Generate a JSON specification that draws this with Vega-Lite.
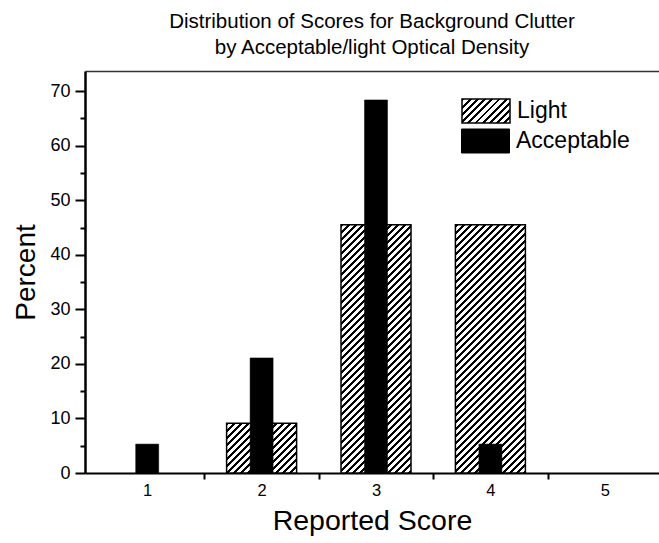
{
  "$schema": "https://vega.github.io/schema/vega-lite/v6.json",
  "width": 574,
  "height": 402,
  "autosize": "none",
  "padding": {"left": 85, "top": 71, "right": 0, "bottom": 70},
  "background": "white",
  "config": {"view": {"stroke": null}, "axis": {"grid": false}},
  "title": {
    "text": ["Distribution of Scores for Background Clutter", "by Acceptable/light Optical Density"],
    "font": "Liberation Sans",
    "fontSize": 20.5,
    "fontWeight": "normal",
    "color": "black",
    "lineHeight": 26,
    "offset": 13,
    "anchor": "middle"
  },
  "data": {
    "values": [
      {"score": 1, "group": "Acceptable", "percent": 5.3},
      {"score": 2, "group": "Acceptable", "percent": 21.1},
      {"score": 3, "group": "Acceptable", "percent": 68.4},
      {"score": 4, "group": "Acceptable", "percent": 5.3},
      {"score": 2, "group": "Light", "percent": 9.1},
      {"score": 3, "group": "Light", "percent": 45.5},
      {"score": 4, "group": "Light", "percent": 45.5}
    ]
  },
  "resolve": {"scale": {"stroke": "independent"}},
  "encoding": {
    "y": {
      "field": "percent", "type": "quantitative",
      "scale": {"domain": [0, 73.7], "nice": false},
      "axis": {
        "values": [0, 5, 10, 15, 20, 25, 30, 35, 40, 45, 50, 55, 60, 65, 70],
        "labelExpr": "datum.value % 10 === 0 ? '' + datum.value : ''",
        "labelOverlap": false,
        "labelFlush": false,
        "labelFont": "Liberation Sans",
        "labelFontSize": 18,
        "labelColor": "black",
        "labelPadding": 5,
        "tickSize": 10,
        "tickDash": {"condition": {"test": "datum.value % 10 !== 0", "value": [5, 30]}, "value": [10, 0]},
        "tickWidth": 2,
        "tickColor": "black",
        "domainColor": "black",
        "domainWidth": 2.5,
        "title": "Percent",
        "titleFont": "Liberation Sans",
        "titleFontSize": 28,
        "titleFontWeight": "normal",
        "titleColor": "black",
        "titlePadding": 9
      }
    }
  },
  "layer": [
    {
      "transform": [{"filter": "datum.group === 'Light'"}],
      "mark": {"type": "bar", "width": 70, "strokeWidth": 1.5},
      "encoding": {
        "x": {
          "field": "score", "type": "quantitative",
          "scale": {"domain": [0.5, 5.43], "nice": false, "zero": false},
          "axis": {
            "orient": "bottom",
            "values": [1, 1.5, 2, 2.5, 3, 3.5, 4, 4.5, 5],
            "labelExpr": "datum.value % 1 === 0 ? '' + datum.value : ''",
            "labelOverlap": false,
            "labelFlush": false,
            "labelFont": "Liberation Sans",
            "labelFontSize": 16.5,
            "labelColor": "black",
            "labelPadding": 3,
            "tickSize": 6,
            "tickWidth": 2,
            "tickColor": "black",
            "tickOpacity": {"condition": {"test": "datum.value % 1 === 0", "value": 0}, "value": 1},
            "domainColor": "black",
            "domainWidth": 2,
            "title": "Reported Score",
            "titleFont": "Liberation Sans",
            "titleFontSize": 28.5,
            "titleFontWeight": "normal",
            "titleColor": "black",
            "titlePadding": 8
          }
        },
        "stroke": {
          "field": "group", "type": "nominal",
          "scale": {"domain": ["Light"], "range": ["#000000"]},
          "legend": {
            "orient": "none",
            "legendX": 376,
            "legendY": 15,
            "title": null,
            "padding": 0,
            "symbolType": "M-1,-0.5H1V0.5H-1Z",
            "symbolSize": 2304,
            "symbolStrokeWidth": 1.5,
            "symbolOpacity": 1,
            "labelFont": "Liberation Sans",
            "labelFontSize": 23,
            "labelColor": "black",
            "labelOffset": 6
          }
        },
        "fill": {
          "condition": [
            {"test": "datum.score > 100", "value": {"gradient": "linear", "x1": 0, "y1": 0, "x2": 1.2, "y2": 0.6, "stops": [
              {"offset":0,"color":"#000"},{"offset":0.04,"color":"#000"},{"offset":0.04,"color":"#fff"},{"offset":0.1,"color":"#fff"},
              {"offset":0.1,"color":"#000"},{"offset":0.14,"color":"#000"},{"offset":0.14,"color":"#fff"},{"offset":0.2,"color":"#fff"},
              {"offset":0.2,"color":"#000"},{"offset":0.24,"color":"#000"},{"offset":0.24,"color":"#fff"},{"offset":0.3,"color":"#fff"},
              {"offset":0.3,"color":"#000"},{"offset":0.34,"color":"#000"},{"offset":0.34,"color":"#fff"},{"offset":0.4,"color":"#fff"},
              {"offset":0.4,"color":"#000"},{"offset":0.44,"color":"#000"},{"offset":0.44,"color":"#fff"},{"offset":0.5,"color":"#fff"},
              {"offset":0.5,"color":"#000"},{"offset":0.54,"color":"#000"},{"offset":0.54,"color":"#fff"},{"offset":0.6,"color":"#fff"},
              {"offset":0.6,"color":"#000"},{"offset":0.64,"color":"#000"},{"offset":0.64,"color":"#fff"},{"offset":0.7,"color":"#fff"},
              {"offset":0.7,"color":"#000"},{"offset":0.74,"color":"#000"},{"offset":0.74,"color":"#fff"},{"offset":0.8,"color":"#fff"},
              {"offset":0.8,"color":"#000"},{"offset":0.84,"color":"#000"},{"offset":0.84,"color":"#fff"},{"offset":0.9,"color":"#fff"},
              {"offset":0.9,"color":"#000"},{"offset":0.94,"color":"#000"},{"offset":0.94,"color":"#fff"},{"offset":1,"color":"#fff"}
            ]}},
            {"test": "datum.score === 2", "value": {"gradient": "linear", "x1": 0, "y1": 0, "x2": 1.3308, "y2": 0.94372, "stops": [
              {"offset":0,"color":"#000"},{"offset":0.02,"color":"#000"},{"offset":0.02,"color":"#fff"},{"offset":0.05,"color":"#fff"},
              {"offset":0.05,"color":"#000"},{"offset":0.07,"color":"#000"},{"offset":0.07,"color":"#fff"},{"offset":0.1,"color":"#fff"},
              {"offset":0.1,"color":"#000"},{"offset":0.12,"color":"#000"},{"offset":0.12,"color":"#fff"},{"offset":0.15,"color":"#fff"},
              {"offset":0.15,"color":"#000"},{"offset":0.17,"color":"#000"},{"offset":0.17,"color":"#fff"},{"offset":0.2,"color":"#fff"},
              {"offset":0.2,"color":"#000"},{"offset":0.22,"color":"#000"},{"offset":0.22,"color":"#fff"},{"offset":0.25,"color":"#fff"},
              {"offset":0.25,"color":"#000"},{"offset":0.27,"color":"#000"},{"offset":0.27,"color":"#fff"},{"offset":0.3,"color":"#fff"},
              {"offset":0.3,"color":"#000"},{"offset":0.32,"color":"#000"},{"offset":0.32,"color":"#fff"},{"offset":0.35,"color":"#fff"},
              {"offset":0.35,"color":"#000"},{"offset":0.37,"color":"#000"},{"offset":0.37,"color":"#fff"},{"offset":0.4,"color":"#fff"},
              {"offset":0.4,"color":"#000"},{"offset":0.42,"color":"#000"},{"offset":0.42,"color":"#fff"},{"offset":0.45,"color":"#fff"},
              {"offset":0.45,"color":"#000"},{"offset":0.47,"color":"#000"},{"offset":0.47,"color":"#fff"},{"offset":0.5,"color":"#fff"},
              {"offset":0.5,"color":"#000"},{"offset":0.52,"color":"#000"},{"offset":0.52,"color":"#fff"},{"offset":0.55,"color":"#fff"},
              {"offset":0.55,"color":"#000"},{"offset":0.57,"color":"#000"},{"offset":0.57,"color":"#fff"},{"offset":0.6,"color":"#fff"},
              {"offset":0.6,"color":"#000"},{"offset":0.62,"color":"#000"},{"offset":0.62,"color":"#fff"},{"offset":0.65,"color":"#fff"},
              {"offset":0.65,"color":"#000"},{"offset":0.67,"color":"#000"},{"offset":0.67,"color":"#fff"},{"offset":0.7,"color":"#fff"},
              {"offset":0.7,"color":"#000"},{"offset":0.72,"color":"#000"},{"offset":0.72,"color":"#fff"},{"offset":0.75,"color":"#fff"},
              {"offset":0.75,"color":"#000"},{"offset":0.77,"color":"#000"},{"offset":0.77,"color":"#fff"},{"offset":0.8,"color":"#fff"},
              {"offset":0.8,"color":"#000"},{"offset":0.82,"color":"#000"},{"offset":0.82,"color":"#fff"},{"offset":0.85,"color":"#fff"},
              {"offset":0.85,"color":"#000"},{"offset":0.87,"color":"#000"},{"offset":0.87,"color":"#fff"},{"offset":0.9,"color":"#fff"}
            ]}},
            {"test": "datum.score !== 2", "value": {"gradient": "linear", "x1": 0, "y1": 0, "x2": 0.3684, "y2": 1.3063, "stops": [
              {"offset":0,"color":"#000"},{"offset":0.008,"color":"#000"},{"offset":0.008,"color":"#fff"},{"offset":0.02,"color":"#fff"},
              {"offset":0.02,"color":"#000"},{"offset":0.028,"color":"#000"},{"offset":0.028,"color":"#fff"},{"offset":0.04,"color":"#fff"},
              {"offset":0.04,"color":"#000"},{"offset":0.048,"color":"#000"},{"offset":0.048,"color":"#fff"},{"offset":0.06,"color":"#fff"},
              {"offset":0.06,"color":"#000"},{"offset":0.068,"color":"#000"},{"offset":0.068,"color":"#fff"},{"offset":0.08,"color":"#fff"},
              {"offset":0.08,"color":"#000"},{"offset":0.088,"color":"#000"},{"offset":0.088,"color":"#fff"},{"offset":0.1,"color":"#fff"},
              {"offset":0.1,"color":"#000"},{"offset":0.108,"color":"#000"},{"offset":0.108,"color":"#fff"},{"offset":0.12,"color":"#fff"},
              {"offset":0.12,"color":"#000"},{"offset":0.128,"color":"#000"},{"offset":0.128,"color":"#fff"},{"offset":0.14,"color":"#fff"},
              {"offset":0.14,"color":"#000"},{"offset":0.148,"color":"#000"},{"offset":0.148,"color":"#fff"},{"offset":0.16,"color":"#fff"},
              {"offset":0.16,"color":"#000"},{"offset":0.168,"color":"#000"},{"offset":0.168,"color":"#fff"},{"offset":0.18,"color":"#fff"},
              {"offset":0.18,"color":"#000"},{"offset":0.188,"color":"#000"},{"offset":0.188,"color":"#fff"},{"offset":0.2,"color":"#fff"},
              {"offset":0.2,"color":"#000"},{"offset":0.208,"color":"#000"},{"offset":0.208,"color":"#fff"},{"offset":0.22,"color":"#fff"},
              {"offset":0.22,"color":"#000"},{"offset":0.228,"color":"#000"},{"offset":0.228,"color":"#fff"},{"offset":0.24,"color":"#fff"},
              {"offset":0.24,"color":"#000"},{"offset":0.248,"color":"#000"},{"offset":0.248,"color":"#fff"},{"offset":0.26,"color":"#fff"},
              {"offset":0.26,"color":"#000"},{"offset":0.268,"color":"#000"},{"offset":0.268,"color":"#fff"},{"offset":0.28,"color":"#fff"},
              {"offset":0.28,"color":"#000"},{"offset":0.288,"color":"#000"},{"offset":0.288,"color":"#fff"},{"offset":0.3,"color":"#fff"},
              {"offset":0.3,"color":"#000"},{"offset":0.308,"color":"#000"},{"offset":0.308,"color":"#fff"},{"offset":0.32,"color":"#fff"},
              {"offset":0.32,"color":"#000"},{"offset":0.328,"color":"#000"},{"offset":0.328,"color":"#fff"},{"offset":0.34,"color":"#fff"},
              {"offset":0.34,"color":"#000"},{"offset":0.348,"color":"#000"},{"offset":0.348,"color":"#fff"},{"offset":0.36,"color":"#fff"},
              {"offset":0.36,"color":"#000"},{"offset":0.368,"color":"#000"},{"offset":0.368,"color":"#fff"},{"offset":0.38,"color":"#fff"},
              {"offset":0.38,"color":"#000"},{"offset":0.388,"color":"#000"},{"offset":0.388,"color":"#fff"},{"offset":0.4,"color":"#fff"},
              {"offset":0.4,"color":"#000"},{"offset":0.408,"color":"#000"},{"offset":0.408,"color":"#fff"},{"offset":0.42,"color":"#fff"},
              {"offset":0.42,"color":"#000"},{"offset":0.428,"color":"#000"},{"offset":0.428,"color":"#fff"},{"offset":0.44,"color":"#fff"},
              {"offset":0.44,"color":"#000"},{"offset":0.448,"color":"#000"},{"offset":0.448,"color":"#fff"},{"offset":0.46,"color":"#fff"},
              {"offset":0.46,"color":"#000"},{"offset":0.468,"color":"#000"},{"offset":0.468,"color":"#fff"},{"offset":0.48,"color":"#fff"},
              {"offset":0.48,"color":"#000"},{"offset":0.488,"color":"#000"},{"offset":0.488,"color":"#fff"},{"offset":0.5,"color":"#fff"},
              {"offset":0.5,"color":"#000"},{"offset":0.508,"color":"#000"},{"offset":0.508,"color":"#fff"},{"offset":0.52,"color":"#fff"},
              {"offset":0.52,"color":"#000"},{"offset":0.528,"color":"#000"},{"offset":0.528,"color":"#fff"},{"offset":0.54,"color":"#fff"},
              {"offset":0.54,"color":"#000"},{"offset":0.548,"color":"#000"},{"offset":0.548,"color":"#fff"},{"offset":0.56,"color":"#fff"},
              {"offset":0.56,"color":"#000"},{"offset":0.568,"color":"#000"},{"offset":0.568,"color":"#fff"},{"offset":0.58,"color":"#fff"},
              {"offset":0.58,"color":"#000"},{"offset":0.588,"color":"#000"},{"offset":0.588,"color":"#fff"},{"offset":0.6,"color":"#fff"},
              {"offset":0.6,"color":"#000"},{"offset":0.608,"color":"#000"},{"offset":0.608,"color":"#fff"},{"offset":0.62,"color":"#fff"},
              {"offset":0.62,"color":"#000"},{"offset":0.628,"color":"#000"},{"offset":0.628,"color":"#fff"},{"offset":0.64,"color":"#fff"},
              {"offset":0.64,"color":"#000"},{"offset":0.648,"color":"#000"},{"offset":0.648,"color":"#fff"},{"offset":0.66,"color":"#fff"},
              {"offset":0.66,"color":"#000"},{"offset":0.668,"color":"#000"},{"offset":0.668,"color":"#fff"},{"offset":0.68,"color":"#fff"},
              {"offset":0.68,"color":"#000"},{"offset":0.688,"color":"#000"},{"offset":0.688,"color":"#fff"},{"offset":0.7,"color":"#fff"},
              {"offset":0.7,"color":"#000"},{"offset":0.708,"color":"#000"},{"offset":0.708,"color":"#fff"},{"offset":0.72,"color":"#fff"},
              {"offset":0.72,"color":"#000"},{"offset":0.728,"color":"#000"},{"offset":0.728,"color":"#fff"},{"offset":0.74,"color":"#fff"},
              {"offset":0.74,"color":"#000"},{"offset":0.748,"color":"#000"},{"offset":0.748,"color":"#fff"},{"offset":0.76,"color":"#fff"},
              {"offset":0.76,"color":"#000"},{"offset":0.768,"color":"#000"},{"offset":0.768,"color":"#fff"},{"offset":0.78,"color":"#fff"},
              {"offset":0.78,"color":"#000"},{"offset":0.788,"color":"#000"},{"offset":0.788,"color":"#fff"},{"offset":0.8,"color":"#fff"},
              {"offset":0.8,"color":"#000"},{"offset":0.808,"color":"#000"},{"offset":0.808,"color":"#fff"},{"offset":0.82,"color":"#fff"},
              {"offset":0.82,"color":"#000"},{"offset":0.828,"color":"#000"},{"offset":0.828,"color":"#fff"},{"offset":0.84,"color":"#fff"},
              {"offset":0.84,"color":"#000"},{"offset":0.848,"color":"#000"},{"offset":0.848,"color":"#fff"},{"offset":0.86,"color":"#fff"},
              {"offset":0.86,"color":"#000"},{"offset":0.868,"color":"#000"},{"offset":0.868,"color":"#fff"},{"offset":0.88,"color":"#fff"},
              {"offset":0.88,"color":"#000"},{"offset":0.888,"color":"#000"},{"offset":0.888,"color":"#fff"},{"offset":0.9,"color":"#fff"},
              {"offset":0.9,"color":"#000"},{"offset":0.908,"color":"#000"},{"offset":0.908,"color":"#fff"},{"offset":0.92,"color":"#fff"}
            ]}}
          ]
        }
      }
    },
    {
      "transform": [{"filter": "datum.group === 'Acceptable'"}],
      "mark": {"type": "bar", "width": 23, "fill": "#000000", "strokeWidth": 0.5},
      "encoding": {
        "x": {
          "field": "score", "type": "quantitative",
          "axis": {
            "orient": "top",
            "labels": false,
            "ticks": false,
            "title": null,
            "domainColor": "#333333",
            "domainWidth": 1.5
          }
        },
        "stroke": {
          "field": "group", "type": "nominal",
          "scale": {"domain": ["Acceptable"], "range": ["#000000"]},
          "legend": {
            "orient": "none",
            "legendX": 376,
            "legendY": 45.5,
            "title": null,
            "padding": 0,
            "symbolType": "M-1,-0.5H1V0.5H-1Z",
            "symbolSize": 2304,
            "symbolStrokeWidth": 1,
            "symbolOpacity": 1,
            "labelFont": "Liberation Sans",
            "labelFontSize": 23,
            "labelColor": "black",
            "labelOffset": 6
          }
        }
      }
    }
  ]
}
